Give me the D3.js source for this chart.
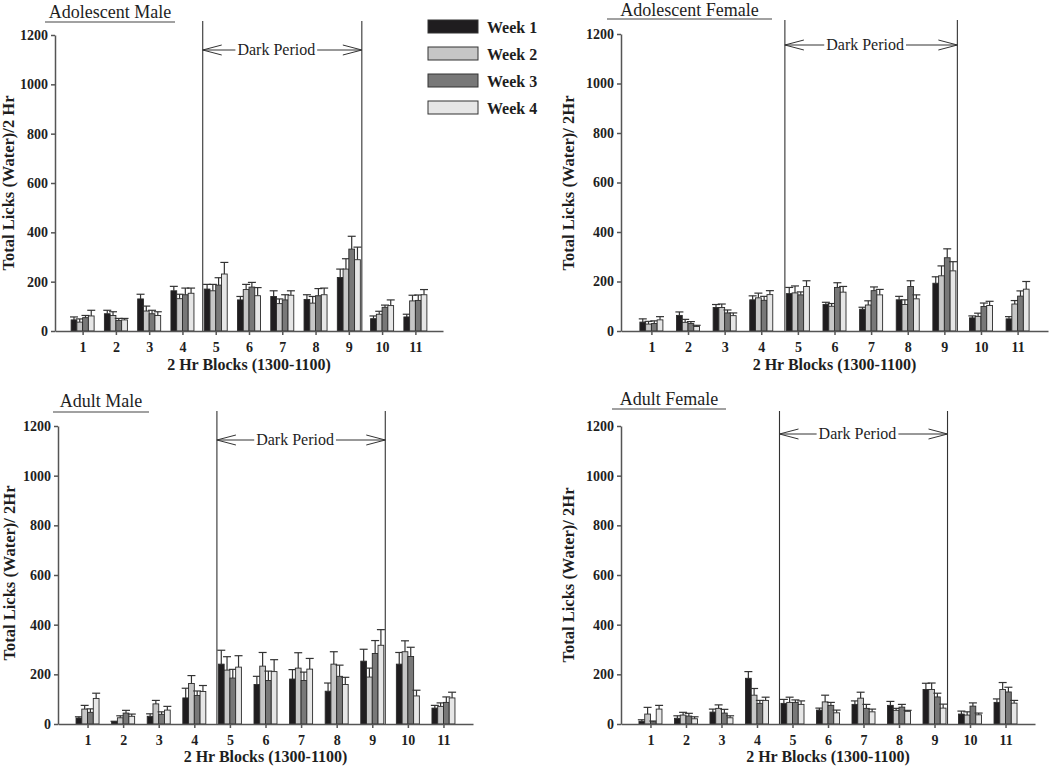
<!DOCTYPE html>
<meta charset="utf-8">
<script src="https://d3js.org/d3.v7.min.js"></script>
<style>
  body { margin: 0; background: #fff; }
  svg text { font-family: "Liberation Serif", "Times New Roman", serif; fill: #1e1e1e; }
</style>
<svg id="chart" width="1050" height="766"></svg>
<script>

// categories
const blocks = ["1","2","3","4","5","6","7","8","9","10","11"];
const weeks = ["Week 1","Week 2","Week 3","Week 4"];
const yTicks = [0, 200, 400, 600, 800, 1000, 1200];

// Adolescent Male - means per week, then SEM per week
const amW1 = [45, 70, 130, 163, 170, 126, 140, 128, 217, 50, 57];
const amW2 = [36, 63, 81, 131, 163, 168, 111, 113, 251, 68, 122];
const amW3 = [54, 43, 70, 147, 186, 178, 126, 143, 332, 96, 124];
const amW4 = [61, 45, 63, 153, 231, 143, 145, 147, 289, 103, 147];
const amE1 = [12, 14, 19, 18, 19, 14, 23, 19, 34, 11, 11];
const amE2 = [13, 15, 20, 18, 26, 21, 19, 27, 42, 12, 23];
const amE3 = [9, 8, 14, 27, 30, 19, 21, 29, 52, 9, 22];
const amE4 = [23, 6, 15, 21, 47, 33, 18, 27, 51, 23, 21];

// Adolescent Female
const afW1 = [36, 63, 95, 126, 151, 107, 88, 126, 193, 53, 49];
const afW2 = [28, 35, 95, 134, 154, 100, 105, 107, 223, 59, 109];
const afW3 = [30, 30, 73, 124, 146, 176, 163, 180, 296, 99, 141];
const afW4 = [45, 18, 62, 147, 180, 157, 146, 130, 243, 103, 169];
const afE1 = [13, 14, 12, 16, 25, 9, 8, 14, 26, 8, 9];
const afE2 = [11, 12, 14, 19, 28, 11, 17, 19, 40, 13, 14];
const afE3 = [11, 8, 12, 16, 12, 19, 15, 23, 36, 14, 21];
const afE4 = [13, 5, 11, 16, 23, 23, 22, 16, 37, 17, 31];

// Adult Male
const mW1 = [24, 9, 31, 105, 241, 159, 181, 132, 253, 241, 64];
const mW2 = [60, 25, 81, 163, 217, 233, 225, 241, 189, 291, 71];
const mW3 = [47, 44, 39, 115, 185, 175, 175, 192, 284, 272, 87];
const mW4 = [103, 31, 56, 131, 229, 211, 221, 159, 317, 113, 105];
const mE1 = [5, 2, 10, 39, 56, 33, 38, 33, 48, 47, 11];
const mE2 = [15, 8, 14, 32, 54, 55, 62, 50, 36, 44, 14];
const mE3 = [14, 11, 10, 18, 35, 38, 34, 45, 52, 37, 22];
const mE4 = [21, 9, 15, 24, 46, 48, 43, 29, 63, 23, 23];

// Adult Female
const fW1 = [11, 23, 48, 184, 83, 56, 79, 75, 139, 40, 87];
const fW2 = [40, 36, 63, 116, 87, 89, 104, 55, 139, 36, 139];
const fW3 = [9, 32, 44, 83, 87, 75, 63, 68, 109, 72, 129];
const fW4 = [60, 21, 25, 95, 79, 45, 49, 51, 64, 37, 84];
const fE1 = [6, 10, 12, 27, 16, 8, 14, 16, 25, 12, 14];
const fE2 = [27, 11, 14, 27, 21, 27, 24, 8, 26, 13, 28];
const fE3 = [3, 11, 15, 12, 10, 12, 16, 11, 15, 13, 19];
const fE4 = [15, 8, 8, 13, 14, 11, 11, 4, 16, 7, 11];

const weekFill = ["#1f1d1f", "#c6c6c6", "#787878", "#e6e6e6"];
const serif = "'Liberation Serif', 'Times New Roman', serif";

// panel layout
const panels = [
  { title: "Adolescent Male", ylab: "Total Licks (Water)/2 Hr",
    means: [amW1, amW2, amW3, amW4], sems: [amE1, amE2, amE3, amE4],
    x0: 55, x1: 443, yTop: 35, yBot: 331, lineTop: 21, arrowY: 50,
    ul: [45, 175], ulY: 22, titleY: 18, ylabX: 14, ylabY: 183, xlabY: 370, legend: true },
  { title: "Adolescent Female", ylab: "Total Licks (Water)/ 2Hr",
    means: [afW1, afW2, afW3, afW4], sems: [afE1, afE2, afE3, afE4],
    x0: 621, x1: 1048, yTop: 34, yBot: 331, lineTop: 20, arrowY: 45,
    ul: [607, 772], ulY: 19, titleY: 16, ylabX: 574, ylabY: 183, xlabY: 370 },
  { title: "Adult Male", ylab: "Total Licks (Water)/ 2Hr",
    means: [mW1, mW2, mW3, mW4], sems: [mE1, mE2, mE3, mE4],
    x0: 58, x1: 473, yTop: 426, yBot: 724, lineTop: 411, arrowY: 440,
    ul: [53, 149], ulY: 412, titleY: 407, ylabX: 15, ylabY: 573, xlabY: 762 },
  { title: "Adult Female", ylab: "Total Licks (Water)/ 2Hr",
    means: [fW1, fW2, fW3, fW4], sems: [fE1, fE2, fE3, fE4],
    x0: 621, x1: 1035, yTop: 426, yBot: 724, lineTop: 411, arrowY: 434,
    ul: [612, 726], ulY: 409, titleY: 405, ylabX: 574, ylabY: 575, xlabY: 762 }
];

const svg = d3.select("#chart");
const groupW = 23;

panels.forEach(function (p) {
  const g = svg.append("g");

  const x = d3.scalePoint().domain(blocks).range([p.x0, p.x1]).padding(0.83);
  const xw = d3.scaleBand().domain(weeks).range([-groupW / 2, groupW / 2]);
  const y = d3.scaleLinear().domain([0, 1200]).range([p.yBot, p.yTop]);

  // dark period lines
  const dl = x("5") - groupW / 2 - 1.5,
        dr = x("9") + groupW / 2 + 1.5;
  g.selectAll(".dark").data([dl, dr]).join("line")
    .attr("x1", d => d).attr("x2", d => d)
    .attr("y1", p.lineTop).attr("y2", p.yBot)
    .attr("stroke", "#333").attr("stroke-width", 1.1);

  // arrow
  const ay = p.arrowY;
  g.append("path")
    .attr("d", `M${dl},${ay}H${dr}M${dl + 19},${ay - 5}L${dl},${ay}L${dl + 19},${ay + 5}M${dr - 19},${ay - 5}L${dr},${ay}L${dr - 19},${ay + 5}`)
    .attr("fill", "none").attr("stroke", "#333").attr("stroke-width", 1);
  const dt = g.append("text")
    .attr("x", (dl + dr) / 2 - 6).attr("y", ay + 5)
    .attr("text-anchor", "middle").attr("font-size", 16)
    .style("font-family", serif)
    .text("Dark Period");
  const bb = dt.node().getBBox();
  g.insert("rect", "text")
    .attr("x", bb.x - 2).attr("y", bb.y + 2).attr("width", bb.width + 4).attr("height", bb.height - 4)
    .attr("fill", "#fff");

  // bars
  const rows = [];
  blocks.forEach((b, i) => {
    weeks.forEach((w, j) => {
      rows.push({ block: b, week: w, j: j, mean: p.means[j][i], sem: p.sems[j][i] });
    });
  });

  const cx = d => x(d.block) + xw(d.week) + xw.bandwidth() / 2;
  const bars = g.append("g").selectAll("g").data(rows).join("g");
  bars.append("line")
    .attr("x1", cx).attr("x2", cx)
    .attr("y1", d => y(d.mean)).attr("y2", d => y(d.mean + d.sem))
    .attr("stroke", "#333").attr("stroke-width", 1.2);
  bars.append("line")
    .attr("x1", d => cx(d) - 4).attr("x2", d => cx(d) + 4)
    .attr("y1", d => y(d.mean + d.sem)).attr("y2", d => y(d.mean + d.sem))
    .attr("stroke", "#333").attr("stroke-width", 1.2);
  bars.append("rect")
    .attr("x", d => x(d.block) + xw(d.week))
    .attr("width", xw.bandwidth())
    .attr("y", d => y(d.mean))
    .attr("height", d => y(0) - y(d.mean))
    .attr("fill", d => weekFill[d.j])
    .attr("stroke", "#2a2a2a").attr("stroke-width", 0.9);

  // axes
  const ya = g.append("g")
    .attr("transform", `translate(${p.x0},0)`)
    .call(d3.axisLeft(y).tickValues(yTicks).tickFormat(d3.format("d"))
      .tickSize(4).tickSizeOuter(0).tickPadding(3));
  ya.selectAll("text").attr("font-size", 14).attr("font-weight", "bold")
    .style("font-family", serif).attr("fill", "#1e1e1e");
  ya.selectAll("line, path").attr("stroke", "#555").attr("stroke-width", 1.5);

  const xa = g.append("g")
    .attr("transform", `translate(0,${p.yBot})`)
    .call(d3.axisBottom(x).tickSize(4).tickSizeOuter(0).tickPadding(7));
  xa.selectAll("text").attr("font-size", 14).attr("font-weight", "bold")
    .style("font-family", serif).attr("fill", "#1e1e1e");
  xa.selectAll("line, path").attr("stroke", "#555").attr("stroke-width", 1.5);

  // axis titles
  g.append("text")
    .attr("x", (p.x0 + p.x1) / 2).attr("y", p.xlabY)
    .attr("text-anchor", "middle").attr("font-size", 16).attr("font-weight", "bold")
    .style("font-family", serif)
    .text("2 Hr Blocks (1300-1100)");
  g.append("text")
    .attr("transform", `translate(${p.ylabX},${p.ylabY}) rotate(-90)`)
    .attr("text-anchor", "middle").attr("font-size", 16.5).attr("font-weight", "bold")
    .style("font-family", serif)
    .text(p.ylab);

  // panel title, underlined
  g.append("text")
    .attr("x", (p.ul[0] + p.ul[1]) / 2).attr("y", p.titleY)
    .attr("text-anchor", "middle").attr("font-size", 18)
    .style("font-family", serif)
    .text(p.title);
  g.append("line")
    .attr("x1", p.ul[0]).attr("x2", p.ul[1]).attr("y1", p.ulY).attr("y2", p.ulY)
    .attr("stroke", "#444").attr("stroke-width", 1.2);

  // legend
  if (p.legend) {
    const lg = g.append("g").selectAll("g").data(weeks).join("g")
      .attr("transform", (d, i) => `translate(428,${20 + i * 27})`);
    lg.append("rect")
      .attr("width", 50).attr("height", 13)
      .attr("fill", (d, i) => weekFill[i])
      .attr("stroke", "#333").attr("stroke-width", 1);
    lg.append("text")
      .attr("x", 59).attr("y", 13)
      .attr("font-size", 16).attr("font-weight", "bold")
      .style("font-family", serif)
      .text(d => d);
  }
});

</script>
